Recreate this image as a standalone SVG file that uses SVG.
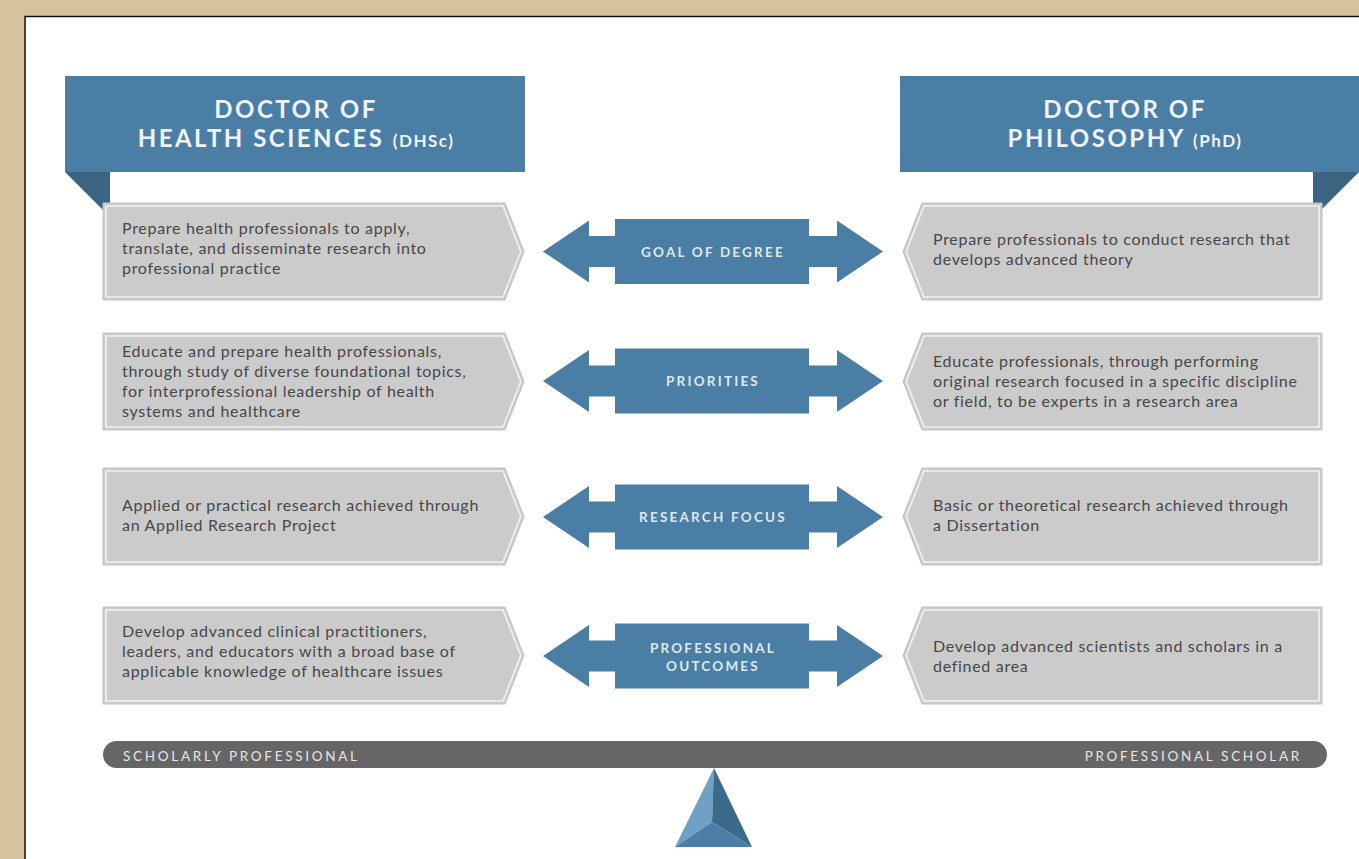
<svg xmlns="http://www.w3.org/2000/svg" xmlns:xlink="http://www.w3.org/1999/xlink" width="1359" height="859" viewBox="0 0 1359 859">
<style>
.hdr{fill:#4b7ea5}
.fold{fill:#3b6582}
.box{fill:#cbcbcb;stroke:#c2c2c2;stroke-width:1}
.inner{fill:none;stroke:#f2f2f2;stroke-width:1.6}
.bt{font-family:Lato,"Open Sans",sans-serif;font-size:16px;fill:#474747;letter-spacing:0.7px}
.ht{font-family:Lato,"Open Sans",sans-serif;font-weight:bold;fill:#eef3f7;text-anchor:middle;letter-spacing:2.5px}
.al{font-family:Lato,"Open Sans",sans-serif;font-weight:bold;font-size:13.5px;fill:#dfe8ef;text-anchor:middle;letter-spacing:2.2px}
.arrow{fill:#4a7ea4}
.bar{font-family:Lato,"Open Sans",sans-serif;font-size:13.5px;fill:#e6e6e6;letter-spacing:2.7px}
</style>
<defs>
<path id="dbl" d="M543,0 L589,-31 L589,-15.5 L615,-15.5 L615,-32.5 L809,-32.5 L809,-15.5 L837,-15.5 L837,-31 L883,0 L837,31 L837,15.5 L809,15.5 L809,32.5 L615,32.5 L615,15.5 L589,15.5 L589,31 Z"/>
<path id="lbox" d="M103,0 L505,0 L524,48.5 L505,97 L103,97 Z"/>
<path id="lboxi" d="M106,3 L503,3 L520.8,48.5 L503,94 L106,94 Z"/>
<path id="rbox" d="M922,0 L1322,0 L1322,97 L922,97 L903,48.5 Z"/>
<path id="rboxi" d="M924,3 L1319,3 L1319,94 L924,94 L906.2,48.5 Z"/>
</defs>
<rect x="0" y="0" width="1359" height="859" fill="#d5c39e"/>
<rect x="25" y="16.5" width="1334" height="842.5" fill="#ffffff"/>
<path d="M25,859 L25,16.5 L1359,16.5" fill="none" stroke="#111111" stroke-width="1.5"/>

<g id="header-dhsc">
<polygon class="fold" points="65,172 110,172 110,217"/>
<rect class="hdr" x="65" y="76" width="460" height="96"/>
<text class="ht" x="296" y="118" font-size="24">DOCTOR OF</text>
<text class="ht" x="296" y="147" font-size="24">HEALTH SCIENCES <tspan font-size="17" letter-spacing="1.5">(DHSc)</tspan></text>
</g>
<g id="header-phd">
<polygon class="fold" points="1313,172 1359,172 1313,218"/>
<rect class="hdr" x="900" y="76" width="459" height="96"/>
<text class="ht" x="1125" y="118" font-size="24">DOCTOR OF</text>
<text class="ht" x="1125" y="147" font-size="24">PHILOSOPHY <tspan font-size="17" letter-spacing="1.5">(PhD)</tspan></text>
</g>

<g id="dhsc-goal">
<use href="#lbox" class="box" y="203"/><use href="#lboxi" class="inner" y="203"/>
<text class="bt" x="122" y="234">Prepare health professionals to apply,</text>
<text class="bt" x="122" y="254">translate, and disseminate research into</text>
<text class="bt" x="122" y="274">professional practice</text>
</g>
<g id="dhsc-priorities">
<use href="#lbox" class="box" y="333"/><use href="#lboxi" class="inner" y="333"/>
<text class="bt" x="122" y="357">Educate and prepare health professionals,</text>
<text class="bt" x="122" y="377">through study of diverse foundational topics,</text>
<text class="bt" x="122" y="397">for interprofessional leadership of health</text>
<text class="bt" x="122" y="417">systems and healthcare</text>
</g>
<g id="dhsc-research">
<use href="#lbox" class="box" y="468"/><use href="#lboxi" class="inner" y="468"/>
<text class="bt" x="122" y="511">Applied or practical research achieved through</text>
<text class="bt" x="122" y="531">an Applied Research Project</text>
</g>
<g id="dhsc-outcomes">
<use href="#lbox" class="box" y="607"/><use href="#lboxi" class="inner" y="607"/>
<text class="bt" x="122" y="637">Develop advanced clinical practitioners,</text>
<text class="bt" x="122" y="657">leaders, and educators with a broad base of</text>
<text class="bt" x="122" y="677">applicable knowledge of healthcare issues</text>
</g>

<g id="phd-goal">
<use href="#rbox" class="box" y="203"/><use href="#rboxi" class="inner" y="203"/>
<text class="bt" x="933" y="245">Prepare professionals to conduct research that</text>
<text class="bt" x="933" y="265">develops advanced theory</text>
</g>
<g id="phd-priorities">
<use href="#rbox" class="box" y="333"/><use href="#rboxi" class="inner" y="333"/>
<text class="bt" x="933" y="367">Educate professionals, through performing</text>
<text class="bt" x="933" y="387">original research focused in a specific discipline</text>
<text class="bt" x="933" y="407">or field, to be experts in a research area</text>
</g>
<g id="phd-research">
<use href="#rbox" class="box" y="468"/><use href="#rboxi" class="inner" y="468"/>
<text class="bt" x="933" y="511">Basic or theoretical research achieved through</text>
<text class="bt" x="933" y="531">a Dissertation</text>
</g>
<g id="phd-outcomes">
<use href="#rbox" class="box" y="607"/><use href="#rboxi" class="inner" y="607"/>
<text class="bt" x="933" y="652">Develop advanced scientists and scholars in a</text>
<text class="bt" x="933" y="672">defined area</text>
</g>

<g id="connectors">
<use href="#dbl" class="arrow" y="251.5"/>
<text class="al" x="713" y="256.5">GOAL OF DEGREE</text>
<use href="#dbl" class="arrow" y="381"/>
<text class="al" x="713" y="386">PRIORITIES</text>
<use href="#dbl" class="arrow" y="517"/>
<text class="al" x="713" y="522">RESEARCH FOCUS</text>
<use href="#dbl" class="arrow" y="656"/>
<text class="al" x="713" y="652.5">PROFESSIONAL</text>
<text class="al" x="713" y="670.5">OUTCOMES</text>
</g>

<g id="scale-bar">
<rect x="103" y="741" width="1224" height="27" rx="13.5" fill="#666666"/>
<text class="bar" x="123" y="760.5">SCHOLARLY PROFESSIONAL</text>
<text class="bar" x="1302" y="760.5" text-anchor="end">PROFESSIONAL SCHOLAR</text>
</g>
<g id="fulcrum">
<polygon points="714,768 675,847 712,822" fill="#6fa1c4"/>
<polygon points="714,768 752,847 712,822" fill="#3b6a8b"/>
<polygon points="675,847 752,847 712,822" fill="#4a7ea6"/>
</g>
</svg>
